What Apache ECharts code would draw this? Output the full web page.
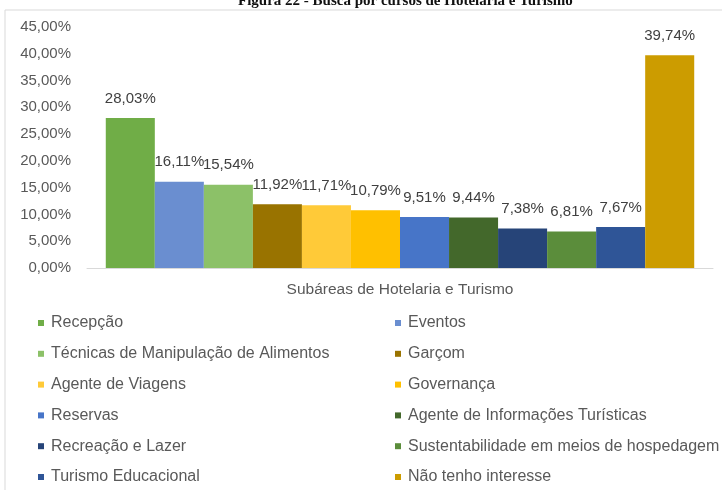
<!DOCTYPE html>
<html>
<head>
<meta charset="utf-8">
<style>
  html, body { margin: 0; padding: 0; background: #fff; }
  #container { width: 722px; height: 490px; }
</style>
<script src="https://cdn.jsdelivr.net/npm/echarts@6/dist/echarts.min.js"></script>
</head>
<body>
<div id="container"></div>
<script>
var categories = ['Subáreas de Hotelaria e Turismo'];
var names = [
  'Recepção', 'Eventos', 'Técnicas de Manipulação de Alimentos', 'Garçom',
  'Agente de Viagens', 'Governança', 'Reservas', 'Agente de Informações Turísticas',
  'Recreação e Lazer', 'Sustentabilidade em meios de hospedagem', 'Turismo Educacional', 'Não tenho interesse'
];
var values = [28.03, 16.11, 15.54, 11.92, 11.71, 10.79, 9.51, 9.44, 7.38, 6.81, 7.67, 39.74];
var colors = [
  '#70ad47', '#6a8ed0', '#8cc168', '#997300',
  '#ffca38', '#ffc000', '#4775c8', '#43682b',
  '#264478', '#5b8d3b', '#2f5597', '#cc9c00'
];

var dom = document.getElementById('container');
var myChart = echarts.init(dom, null, { renderer: 'canvas' });
var font = '"Liberation Sans", sans-serif';

function pct(v) {
  return v.toFixed(2).replace('.', ',') + '%';
}

var series = names.map(function (n, i) {
  return {
    name: n,
    type: 'bar',
    barGap: '0%',
    barCategoryGap: '6%',
    itemStyle: { color: colors[i] },
    label: {
      show: true,
      position: 'top',
      distance: 12,
      color: '#404040',
      fontFamily: font,
      fontSize: 15,
      formatter: function (p) { return pct(p.value); }
    },
    data: [values[i]]
  };
});

function legendBlock(items, left) {
  return {
    orient: 'vertical',
    left: left,
    top: 315,
    padding: 0,
    itemWidth: 6,
    itemHeight: 6,
    itemGap: 14.8,
    icon: 'rect',
    selectedMode: false,
    textStyle: { color: '#595959', fontFamily: font, fontSize: 16, padding: [0, 0, 0, 2] },
    data: items
  };
}

var option = {
  backgroundColor: '#fff',
  animation: false,
  title: {
    text: 'Figura 22 - Busca por cursos de Hotelaria e Turismo',
    left: 233,
    top: -11,
    textStyle: { fontFamily: '"Liberation Serif", serif', fontSize: 15, fontWeight: 'bold', color: '#111' }
  },
  graphic: [{
    type: 'rect',
    shape: { x: 5, y: 10, width: 730, height: 490 },
    style: { fill: 'none', stroke: '#d9d9d9', lineWidth: 1 },
    z: -1
  }],
  legend: [legendBlock(names.filter(function (n, i) { return i % 2 === 0; }), 38),
           legendBlock(names.filter(function (n, i) { return i % 2 === 1; }), 395)],
  grid: { left: 87, right: 9, top: 27, bottom: 222 },
  xAxis: {
    type: 'category',
    data: categories,
    axisLine: { lineStyle: { color: '#d9d9d9' } },
    axisTick: { show: false },
    axisLabel: { color: '#595959', fontFamily: font, fontSize: 15.5, margin: 14 }
  },
  yAxis: {
    type: 'value',
    min: 0,
    max: 45,
    interval: 5,
    axisLine: { show: false },
    axisTick: { show: false },
    splitLine: { show: false },
    axisLabel: { color: '#595959', fontFamily: font, fontSize: 15, margin: 16, formatter: pct }
  },
  series: series
};

myChart.setOption(option);
window.addEventListener('resize', myChart.resize);
</script>
</body>
</html>
